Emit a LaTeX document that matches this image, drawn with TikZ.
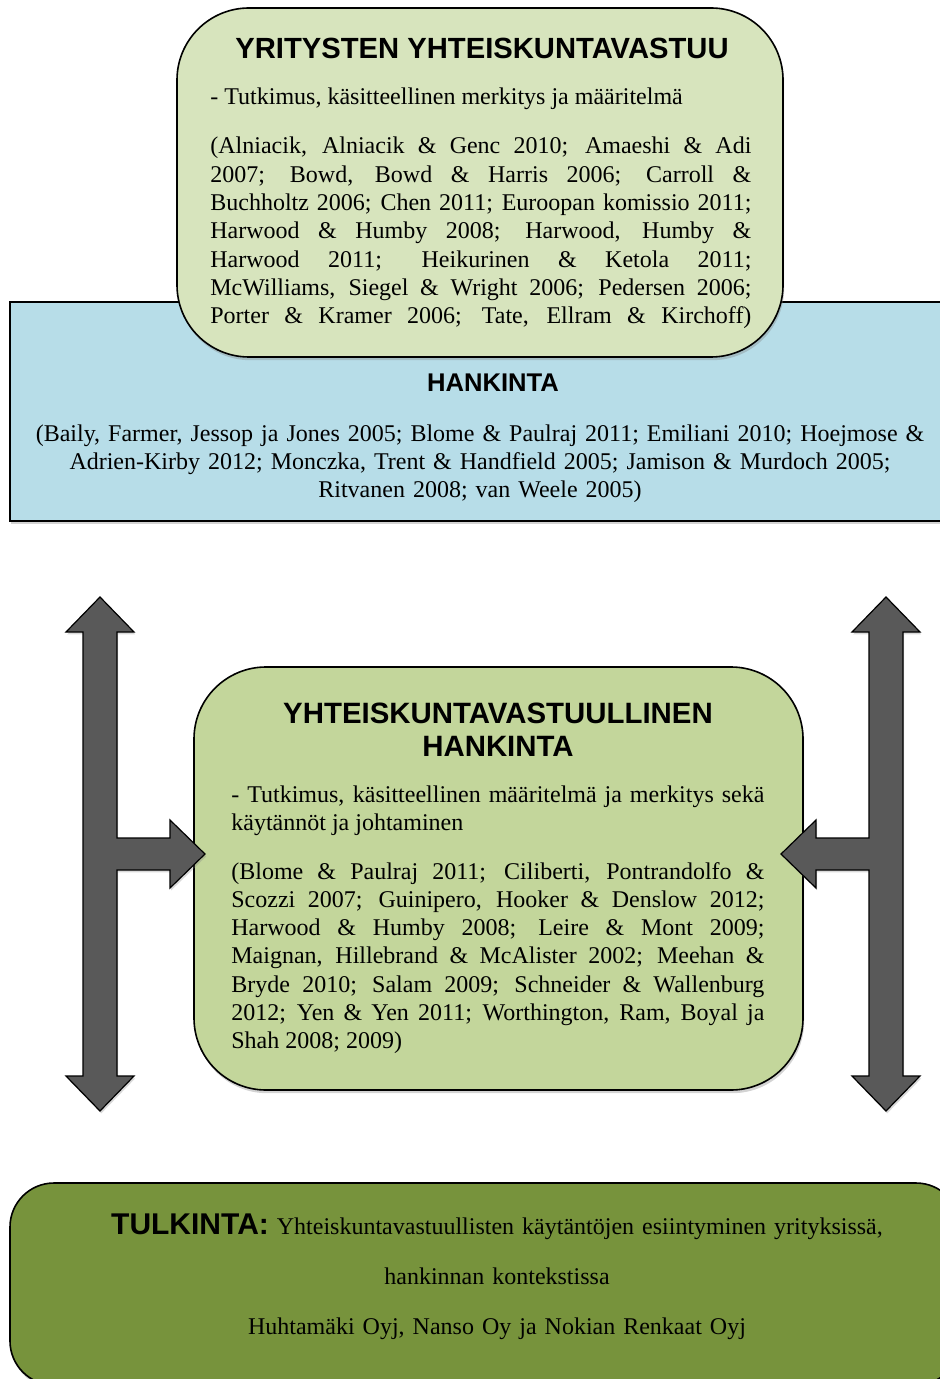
\documentclass[tikz,border=0pt]{standalone}
\usepackage{fontspec}
\setmainfont{Liberation Serif}
\newfontfamily\headfont{Liberation Sans}
\usetikzlibrary{shadows}
\definecolor{boxolive}{HTML}{D7E4BD}
\definecolor{boxblue}{HTML}{B7DDE8}
\definecolor{boxgreen}{HTML}{C3D69B}
\definecolor{boxdark}{HTML}{77933C}
\definecolor{arrowgrey}{HTML}{595959}
\tikzset{
  kehys/.style={draw=black, line width=0.8pt,
                drop shadow={shadow xshift=0.6pt, shadow yshift=-1.6pt, opacity=0.35}},
  arrowbody/.style={draw=black, line width=0.6pt, fill=arrowgrey, line join=miter,
                drop shadow={shadow xshift=0.6pt, shadow yshift=-1.2pt, opacity=0.3}},
  otsikko/.style={inner sep=0pt, font=\headfont\bfseries},
  leipa/.style={inner sep=0pt, font={\fontsize{12}{14.15}\selectfont}}
}
% #1 = shaft centre x, #2 = 1 (branch to the right) or -1 (branch to the left)
\newcommand{\sidearrow}[2]{%
  \draw[arrowbody] (#1,597) -- ({#1+34*#2},632) -- ({#1+17*#2},632)
    -- ({#1+17*#2},838) -- ({#1+70*#2},838) -- ({#1+70*#2},820)
    -- ({#1+105*#2},854) -- ({#1+70*#2},888) -- ({#1+70*#2},870)
    -- ({#1+17*#2},870) -- ({#1+17*#2},1076) -- ({#1+34*#2},1076)
    -- (#1,1111) -- ({#1-34*#2},1076) -- ({#1-17*#2},1076)
    -- ({#1-17*#2},632) -- ({#1-34*#2},632) -- cycle;}

\begin{document}
\begin{tikzpicture}[x=0.5pt, y=-0.5pt]
  \useasboundingbox (0,0) rectangle (940,1379);
  \clip (0,0) rectangle (940,1379);

  % hankinta (behind the top box)
  \node[kehys, fill=boxblue, minimum width=475pt, minimum height=109.5pt] (hankinta) at (485,411.5) {};
  \node[otsikko, font=\headfont\bfseries\fontsize{12.8}{15}\selectfont, anchor=base] (hankintaotsikko) at (493,392) {HANKINTA};
  \node[leipa, anchor=base, text width=460pt, align=center] (hankintalahteet) at (480,441)
    {(Baily, Farmer, Jessop ja Jones 2005; Blome \& Paulraj 2011; Emiliani 2010; Hoejmose \&\\
     Adrien-Kirby 2012; Monczka, Trent \& Handfield 2005; Jamison \& Murdoch 2005;\\
     Ritvanen 2008; van Weele 2005)};

  % yritysten yhteiskuntavastuu
  \node[kehys, fill=boxolive, rounded corners=36pt, minimum width=303pt, minimum height=174.5pt] (vastuu) at (480,182.5) {};
  \node[otsikko, font=\headfont\bfseries\fontsize{14.6}{17}\selectfont, anchor=base] (vastuuotsikko) at (482,59) {YRITYSTEN YHTEISKUNTAVASTUU};
  \node[leipa, anchor=base west] (vastuututkimus) at (210,105) {- Tutkimus, käsitteellinen merkitys ja määritelmä};
  \node[leipa, anchor=base west, text width=270.5pt, align=justify] (vastuulahteet) at (210,154)
    {(Alniacik, Alniacik \& Genc 2010; Amaeshi \& Adi \linebreak
     2007; Bowd, Bowd \& Harris 2006; Carroll \& \linebreak
     Buchholtz 2006; Chen 2011; Euroopan komissio 2011; \linebreak
     Harwood \& Humby 2008; Harwood, Humby \& \linebreak
     Harwood 2011; Heikurinen \& Ketola 2011; \linebreak
     McWilliams, Siegel \& Wright 2006; Pedersen 2006; \linebreak
     \makebox[\linewidth][s]{Porter \& Kramer 2006; Tate, Ellram \& Kirchoff)}};

  % yhteiskuntavastuullinen hankinta
  \node[kehys, fill=boxgreen, rounded corners=36pt, minimum width=304.5pt, minimum height=211.5pt] (vhankinta) at (498.5,878.5) {};
  \node[otsikko, font=\headfont\bfseries\fontsize{14.7}{16.5}\selectfont, anchor=base, text width=300pt, align=center] (vhankintaotsikko) at (498,723)
    {YHTEISKUNTAVASTUULLINEN\\HANKINTA};
  \node[leipa, anchor=base west, text width=266.5pt, align=justify] (vhankintatutkimus) at (231,802)
    {- Tutkimus, käsitteellinen määritelmä ja merkitys sekä käytännöt ja johtaminen};
  \node[leipa, anchor=base west, text width=266.5pt, align=justify] (vhankintalahteet) at (231,879)
    {(Blome \& Paulraj 2011; Ciliberti, Pontrandolfo \& \linebreak
     Scozzi 2007; Guinipero, Hooker \& Denslow 2012; \linebreak
     Harwood \& Humby 2008; Leire \& Mont 2009; \linebreak
     Maignan, Hillebrand \& McAlister 2002; Meehan \& \linebreak
     Bryde 2010; Salam 2009; Schneider \& Wallenburg \linebreak
     2012; Yen \& Yen 2011; Worthington, Ram, Boyal ja \linebreak
     Shah 2008; 2009)};

  % nuolet
  \sidearrow{100}{1}
  \sidearrow{886}{-1}

  % tulkinta
  \node[kehys, fill=boxdark, rounded corners=22pt, minimum width=475pt, minimum height=101pt] (tulkinta) at (485,1284) {};
  \node[leipa, font={\fontsize{12}{25}\selectfont}, anchor=base, text width=460pt, align=center] (tulkintateksti) at (497,1234)
    {{\headfont\bfseries\fontsize{15}{18}\selectfont TULKINTA:} Yhteiskuntavastuullisten käytäntöjen esiintyminen yrityksissä,\\
     hankinnan kontekstissa\\
     Huhtamäki Oyj, Nanso Oy ja Nokian Renkaat Oyj};
\end{tikzpicture}
\end{document}
